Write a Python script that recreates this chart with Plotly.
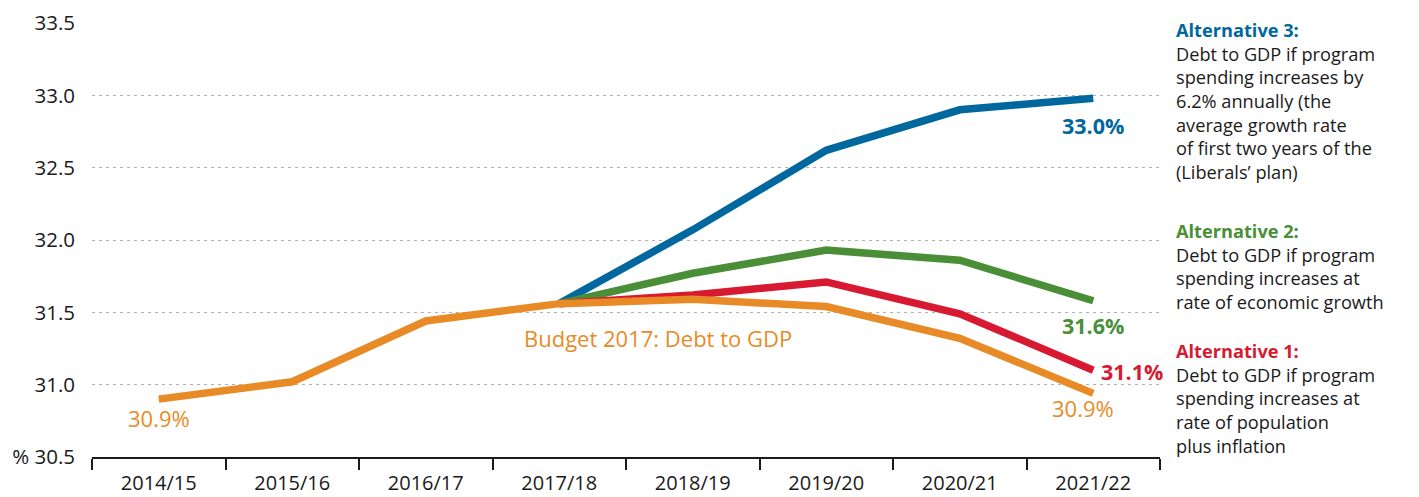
import plotly.graph_objects as go

years = ["2014/15", "2015/16", "2016/17", "2017/18", "2018/19", "2019/20", "2020/21", "2021/22"]
budget_2017 = [30.90, 31.02, 31.44, 31.56, 31.59, 31.54, 31.32, 30.94]
alt1 = [None, None, None, 31.56, 31.62, 31.71, 31.49, 31.10]
alt2 = [None, None, None, 31.56, 31.77, 31.93, 31.86, 31.58]
alt3 = [None, None, None, 31.56, 32.07, 32.62, 32.90, 32.98]
y_ticks = [30.5, 31.0, 31.5, 32.0, 32.5, 33.0, 33.5]
y_tick_labels = ["% 30.5", "31.0", "31.5", "32.0", "32.5", "33.0", "33.5"]

alt3_title = "Alternative 3:"
alt3_lines = ["Debt to GDP if program", "spending increases by", "6.2% annually (the",
              "average growth rate", "of first two years of the", "(Liberals\u2019 plan)"]
alt2_title = "Alternative 2:"
alt2_lines = ["Debt to GDP if program", "spending increases at", "rate of economic growth"]
alt1_title = "Alternative 1:"
alt1_lines = ["Debt to GDP if program", "spending increases at", "rate of population", "plus inflation"]

BLUE = "#00679f"
GREEN = "#4a8f37"
RED = "#d71a31"
ORANGE = "#e88b26"
TEXT = "#1a1a1a"
FONT = "Open Sans"

W, H = 1419, 497
ML, MR, MT, MB = 92, 259, 23, 40
PH = H - MT - MB
PW = W - ML - MR

fig = go.Figure()
for vals, col in [(alt3, BLUE), (alt2, GREEN), (alt1, RED), (budget_2017, ORANGE)]:
    fig.add_trace(go.Scatter(x=years, y=vals, mode="lines",
                             line=dict(color=col, width=7.5), connectgaps=False,
                             hoverinfo="skip", showlegend=False))

ann = []
ann.append(dict(x=0, y=30.77, text="30.9%", font=dict(color=ORANGE, size=22)))
ann.append(dict(x=7, y=32.79, text="<b>33.0%</b>", font=dict(color=BLUE, size=21.5)))
ann.append(dict(x=7, y=31.41, text="<b>31.6%</b>", font=dict(color=GREEN, size=21.5)))
ann.append(dict(x=7, y=31.09, text="<b>31.1%</b>", font=dict(color=RED, size=21.5), xshift=39))
ann.append(dict(x=7, y=30.84, text="30.9%", font=dict(color=ORANGE, size=22), xshift=-10))
ann.append(dict(x=4, y=31.325, text="Budget 2017: Debt to GDP", font=dict(color=ORANGE, size=22), xshift=-35))
for a in ann:
    a.update(xref="x", yref="y", showarrow=False, font_family=FONT)


def py2paper(py):
    return (H - MB - py) / PH


side_x = (1174 - ML) / PW
for top_py, col, title, lines in [(16, BLUE, alt3_title, alt3_lines),
                                  (217, GREEN, alt2_title, alt2_lines),
                                  (337, RED, alt1_title, alt1_lines)]:
    txt = f"<b><span style='color:{col}'>{title}</span></b><br>" + "<br>".join(lines)
    ann.append(dict(xref="paper", yref="paper", x=side_x, y=py2paper(top_py), xanchor="left",
                    yanchor="top", align="left", showarrow=False, text=txt,
                    font=dict(family=FONT, size=18.2, color=TEXT)))

fig.update_layout(
    width=W, height=H,
    margin=dict(l=ML, r=MR, t=MT, b=MB, autoexpand=False),
    paper_bgcolor="white", plot_bgcolor="white",
    font=dict(family=FONT, color=TEXT),
    annotations=ann,
    xaxis=dict(type="category", range=[-0.5, 7.5], showline=True, linecolor=TEXT, linewidth=1.5,
               ticks="outside", tickson="boundaries", ticklen=11, tickcolor=TEXT, tickwidth=1.5,
               showgrid=False, tickfont=dict(size=20, family=FONT, color=TEXT), zeroline=False,
               ticklabelstandoff=7, automargin=False),
    yaxis=dict(range=[30.5, 33.5], tickvals=y_ticks, ticktext=y_tick_labels, showline=False,
               ticks="", showgrid=True, gridcolor="#b0b0b0", gridwidth=1, griddash="3px,4px",
               zeroline=False, ticklabelstandoff=16, automargin=False,
               tickfont=dict(size=20.5, family=FONT, color=TEXT)),
)

fig.write_html("out.html")
